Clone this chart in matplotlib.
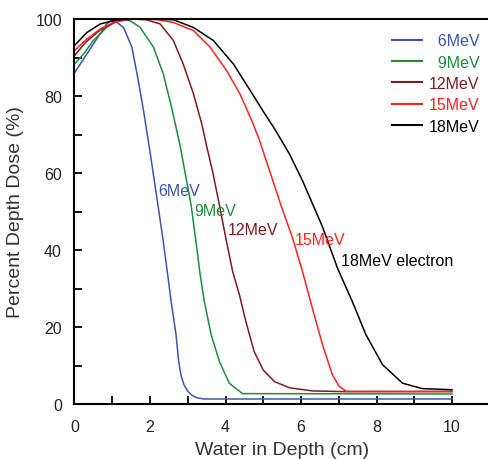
import matplotlib
matplotlib.use("Agg")
import matplotlib.pyplot as plt
from matplotlib.ticker import MultipleLocator

plt.rcParams['font.family'] = ['Liberation Sans', 'DejaVu Sans']

# ---- data ----
depth_6 = [0, 0.3, 0.6, 0.85, 0.95, 1.1, 1.3, 1.52, 1.69, 1.84, 2.0, 2.16, 2.34, 2.47, 2.56,
           2.69, 2.76, 2.82, 2.9, 3.0, 3.12, 3.25, 3.44, 10]
dose_6 = [86, 90.5, 95, 98.7, 99.5, 99.3, 97.8, 92.7, 84, 75.5, 65.5, 55, 43, 33.5, 26.6,
          18, 11, 7.5, 5, 3.3, 2.2, 1.6, 1.3, 1.3]

depth_9 = [0, 0.24, 0.5, 0.85, 1.12, 1.3, 1.5, 1.74, 2.09, 2.35, 2.57, 2.8, 2.95, 3.09, 3.22,
           3.33, 3.44, 3.62, 3.84, 4.1, 4.45, 10]
dose_9 = [88.3, 90.9, 94.4, 97.8, 99.5, 100, 99.4, 97.8, 92.7, 85.8, 77.1, 67, 59, 51.6, 42,
          33.5, 26.6, 18, 11, 5.4, 2.7, 2.6]

depth_12 = [0, 0.3, 0.7, 1.1, 1.5, 1.9, 2.27, 2.62, 2.88, 3.15, 3.37, 3.5, 3.66, 3.84, 4.01,
            4.19, 4.37, 4.54, 4.76, 5.0, 5.3, 5.7, 6.3, 7.2, 10]
dose_12 = [90.5, 94, 97.3, 99.3, 100, 99.8, 98.7, 94.4, 88.3, 80.6, 72.8, 67, 60.3, 51.6, 43,
           34.4, 28.3, 21.4, 13.6, 8.8, 5.8, 4.2, 3.4, 3.2, 3.2]

depth_15 = [0, 0.33, 0.68, 1.03, 1.4, 1.8, 2.2, 2.62, 3.15, 3.59, 4.03, 4.38, 4.7, 4.9, 5.16,
            5.47, 5.78, 6.04, 6.3, 6.57, 6.83, 7.01, 7.2, 10]
dose_15 = [91.8, 94.8, 97.4, 99.1, 99.9, 100, 99.8, 99.1, 97, 92.7, 86.6, 80.6, 73.5, 68.5, 60.8,
           51.6, 43, 34.4, 24.9, 15.4, 7.6, 4.6, 3.3, 3.3]

depth_18 = [0, 0.33, 0.68, 1.12, 1.6, 2.1, 2.62, 3.15, 3.68, 4.21, 4.65, 5.0, 5.3, 5.69,
            6.04, 6.57, 6.97, 7.36, 7.72, 8.16, 8.69, 9.21, 10]
dose_18 = [93.1, 96.5, 98.7, 99.8, 100, 100, 99.8, 97.8, 94.4, 88.3, 81.5, 76, 71.5, 65,
           58, 46, 35.2, 26.6, 18, 10.2, 5.4, 4, 3.7]

series_labels = ["\u20076MeV", "\u20079MeV", "12MeV", "15MeV", "18MeV"]
curve_labels = ["6MeV", "9MeV", "12MeV", "15MeV", "18MeV electron"]
label_pos_x = [2.23, 3.16, 4.07, 5.84, 7.06]
label_pos_y = [55.5, 50.3, 45.2, 42.6, 37.4]
colors = ["#3b55b3", "#1e8c3c", "#7b1c1c", "#ff2222", "#000000"]

x_ticks = [0, 2, 4, 6, 8, 10]
y_ticks = [0, 20, 40, 60, 80, 100]

# ---- figure ----
fig = plt.figure(figsize=(4.89, 4.60), dpi=100)
ax = fig.add_axes([74.5 / 489, 1 - 405 / 460, 1 - 74.5 / 489, (405 - 20) / 460])

depths = [depth_6, depth_9, depth_12, depth_15, depth_18]
doses = [dose_6, dose_9, dose_12, dose_15, dose_18]
for d, v, c, lab in zip(depths, doses, colors, series_labels):
    ax.plot(d, v, color=c, lw=1.1, label=lab, solid_joinstyle='round')

for lab, lx, ly, c in zip(curve_labels, label_pos_x, label_pos_y, colors):
    ax.text(lx, ly, lab, color=c, fontsize=11.5, ha='left', va='center')

ax.set_xlim(0, 10.98)
ax.set_ylim(0, 100)
ax.set_xticks(x_ticks)
ax.set_yticks(y_ticks)
ax.yaxis.set_minor_locator(MultipleLocator(10))
ax.set_xticks([t for t in range(0, 11) if t % 2 == 1], minor=True)

ax.tick_params(axis='both', which='both', direction='in', length=6, width=1.3,
               labelsize=11.5, labelcolor='#222222')
ax.tick_params(axis='x', which='major', pad=11)
ax.tick_params(axis='y', which='major', pad=9)

ax.spines['right'].set_visible(False)
for s in ['left', 'bottom', 'top']:
    ax.spines[s].set_linewidth(1.5)

ax.set_xlabel("Water in Depth (cm)", fontsize=14, color='#333333', labelpad=5)
ax.set_ylabel("Percent Depth Dose (%)", fontsize=14, color='#333333', labelpad=8)

leg = ax.legend(loc='upper left', bbox_to_anchor=(0.766, 0.963), frameon=False,
                fontsize=11.5, handlelength=1.9, handletextpad=0.4, labelspacing=0.4,
                borderpad=0, borderaxespad=0, labelcolor='linecolor')
for h in leg.get_lines():
    h.set_linewidth(1.5)

fig.savefig("out.png", dpi=100)
